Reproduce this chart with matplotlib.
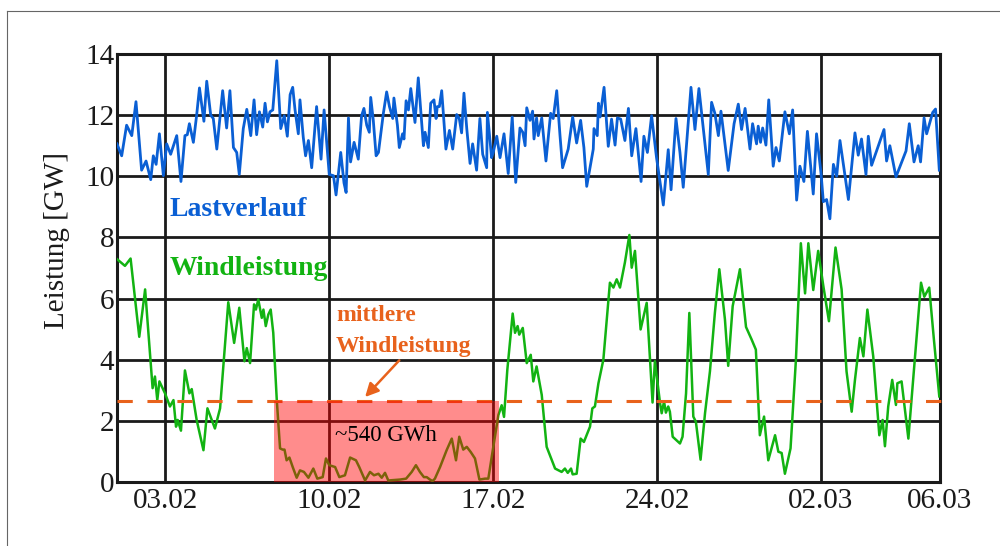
import matplotlib.pyplot as plt
from matplotlib.lines import Line2D
from matplotlib.patches import Rectangle

plt.rcParams['font.family'] = ['Liberation Serif', 'DejaVu Serif']

# Zeit in Tagen ab 01.02. 00:00 (03.02 = 2)
last_t = [-0.05, 0.15, 0.36, 0.58, 0.76, 1.00, 1.19, 1.39, 1.50, 1.62, 1.76, 1.93, 2.07, 2.24, 2.50,
          2.68, 2.85, 2.95, 3.04, 3.21, 3.35, 3.47, 3.66, 3.78, 3.95, 4.06, 4.21, 4.46, 4.63, 4.77,
          4.92, 5.06, 5.17, 5.34, 5.49, 5.66, 5.80, 5.91, 6.03, 6.17, 6.27, 6.37, 6.48, 6.60, 6.77,
          6.94, 7.09, 7.22, 7.34, 7.45, 7.55, 7.69, 7.76, 7.90, 8.00, 8.12, 8.26, 8.47, 8.66, 8.79,
          9.01, 9.19, 9.30, 9.50, 9.64, 9.73, 9.83, 9.92, 10.07, 10.25, 10.39, 10.49, 10.61, 10.72,
          10.78, 10.89, 11.01, 11.11, 11.32, 11.46, 11.58, 11.72, 11.77, 11.92, 12.00, 12.14, 12.20,
          12.29, 12.39, 12.49, 12.67, 12.81, 13.03, 13.10, 13.24, 13.34, 13.48, 13.57, 13.62, 13.71,
          13.81, 13.99, 14.14, 14.28, 14.45, 14.56, 14.66, 14.76, 14.88, 15.02, 15.13, 15.30, 15.44,
          15.56, 15.73, 15.76, 15.94, 16.01, 16.16, 16.30, 16.47, 16.65, 16.82, 16.97, 17.15, 17.27,
          17.37, 17.44, 17.58, 17.69, 17.75, 17.86, 17.93, 18.08, 18.26, 18.46, 18.57, 18.72, 18.86,
          18.97, 19.21, 19.40, 19.57, 19.74, 19.88, 20.00, 20.28, 20.31, 20.45, 20.50, 20.57, 20.74,
          20.92, 21.06, 21.21, 21.31, 21.45, 21.63, 21.78, 21.92, 22.10, 22.32, 22.44, 22.59, 22.77,
          22.98, 23.27, 23.48, 23.60, 23.81, 23.98, 24.12, 24.45, 24.62, 24.79, 25.19, 25.33, 25.47,
          25.62, 25.73, 26.04, 26.29, 26.47, 26.61, 26.76, 26.97, 27.08, 27.25, 27.32, 27.42, 27.51,
          27.65, 27.77, 27.96, 28.08, 28.22, 28.46, 28.65, 28.79, 28.96, 29.10, 29.27, 29.42, 29.67,
          29.81, 30.00, 30.10, 30.24, 30.38, 30.53, 30.67, 30.81, 31.17, 31.45, 31.59, 31.73, 31.92,
          32.02, 32.16, 32.69, 32.80, 32.94, 33.20, 33.63, 33.77, 33.97, 34.15, 34.25, 34.40, 34.51,
          34.77, 34.89, 35.05]
last_gw = [11.06, 10.67, 11.67, 11.33, 12.44, 10.20, 10.50, 9.89, 10.67, 10.39, 11.39, 10.02, 11.06, 10.72, 11.33,
           9.83, 11.33, 11.36, 11.72, 11.11, 12.00, 12.89, 11.80, 13.11, 12.00, 11.89, 10.89, 12.80, 11.58, 12.80,
           10.94, 10.78, 10.06, 11.56, 12.19, 11.33, 12.50, 11.36, 12.11, 11.61, 12.39, 11.78, 12.11, 12.17, 13.78,
           11.56, 11.98, 11.31, 12.67, 12.91, 12.17, 11.39, 12.50, 11.28, 10.67, 11.17, 10.28, 12.28, 10.56, 12.17,
           10.06, 10.02, 9.39, 10.78, 9.78, 9.47, 11.91, 10.47, 11.11, 10.56, 11.98, 12.22, 11.67, 11.44,
           12.58, 11.83, 10.67, 10.78, 12.06, 12.76, 12.28, 11.89, 12.56, 11.67, 10.94, 11.39, 11.22,
           12.47, 12.17, 12.87, 11.76, 13.22, 11.00, 11.44, 10.94, 12.39, 12.50, 11.89, 12.28, 12.28,
           12.80, 10.89, 11.50, 10.89, 12.02, 11.89, 11.42, 12.72, 11.56, 10.42, 11.06, 10.20, 11.89,
           10.72, 10.28, 12.09, 10.61, 10.78, 11.31, 10.61, 11.39, 10.09, 11.94, 9.80, 11.58, 11.44,
           11.00, 12.24, 11.83, 12.13, 11.22, 11.91, 11.33, 11.91, 10.50, 12.06, 11.89, 12.80, 11.33,
           10.28, 10.89, 11.94, 11.09, 11.83, 10.94, 9.67, 10.89, 11.56, 11.33, 12.39, 11.94, 12.91,
           10.98, 11.87, 11.02, 11.91, 11.87, 11.17, 12.22, 10.67, 11.56, 9.83, 11.31, 10.78, 11.98,
           10.61, 9.06, 10.87, 9.56, 11.89, 10.78, 9.64, 12.91, 11.53, 12.87, 10.06, 12.42, 12.06,
           11.33, 12.13, 10.19, 11.72, 12.36, 11.53, 12.22, 10.89, 11.72, 11.06, 11.64, 11.11, 11.58,
           11.02, 12.50, 10.33, 10.94, 10.50, 12.11, 11.39, 12.17, 9.22, 10.33, 9.83, 11.47, 9.42,
           11.39, 10.11, 9.17, 9.24, 8.61, 10.39, 10.00, 11.17, 9.24, 11.42, 10.69, 11.22, 10.06,
           11.31, 10.36, 11.53, 10.50, 11.00, 9.98, 10.83, 11.72, 10.47, 11.00, 10.47, 11.91, 11.39,
           12.09, 12.20, 10.20]

wind_t = [-0.05, 0.29, 0.53, 0.90, 1.15, 1.47, 1.57, 1.67, 1.76, 2.00, 2.21, 2.36, 2.47, 2.54, 2.68,
          2.85, 3.04, 3.14, 3.35, 3.64, 3.81, 4.13, 4.35, 4.70, 4.95, 5.17, 5.39, 5.49, 5.63, 5.80,
          5.88, 5.98, 6.13, 6.20, 6.30, 6.41, 6.51, 6.62, 6.77, 6.91, 7.02, 7.10, 7.19, 7.31, 7.45,
          7.62, 7.76, 7.93, 8.12, 8.33, 8.50, 8.73, 8.87, 9.01, 9.26, 9.44, 9.68, 9.90, 10.15, 10.29,
          10.54, 10.75, 10.92, 11.11, 11.25, 11.39, 11.53, 12.03, 12.29, 12.53, 12.71, 12.88, 13.05,
          13.17, 13.31, 13.42, 13.52, 13.74, 14.02, 14.24, 14.42, 14.56, 14.73, 14.88, 15.05, 15.23,
          15.42, 15.66, 15.80, 15.99, 16.23, 16.37, 16.47, 16.61, 16.84, 16.94, 17.05, 17.12, 17.27,
          17.44, 17.61, 17.72, 17.86, 18.08, 18.29, 18.65, 18.93, 19.07, 19.19, 19.33, 19.40, 19.57,
          19.74, 19.88, 20.14, 20.24, 20.35, 20.50, 20.71, 20.99, 21.14, 21.28, 21.42, 21.63, 21.82,
          21.92, 22.06, 22.30, 22.56, 22.70, 22.81, 22.91, 23.13, 23.20, 23.30, 23.38, 23.48, 23.55,
          23.67, 23.98, 24.09, 24.24, 24.38, 24.55, 24.66, 24.86, 25.05, 25.26, 25.47, 25.66, 25.90,
          26.04, 26.23, 26.54, 26.80, 27.04, 27.22, 27.39, 27.57, 27.75, 28.04, 28.18, 28.32, 28.46,
          28.70, 28.93, 29.14, 29.32, 29.46, 29.67, 29.88, 30.10, 30.34, 30.62, 30.88, 31.09, 31.31,
          31.45, 31.66, 31.81, 31.98, 32.23, 32.49, 32.63, 32.73, 32.87, 33.04, 33.20, 33.26, 33.44,
          33.73, 34.01, 34.27, 34.41, 34.62, 34.82, 35.05]
wind_gw = [7.29, 7.07, 7.31, 4.75, 6.30, 3.07, 3.45, 2.68, 3.29, 2.90, 2.47, 2.68, 1.81, 2.03, 1.68,
           3.65, 2.90, 3.04, 2.03, 1.04, 2.41, 1.75, 2.41, 5.88, 4.55, 5.70, 3.95, 4.38, 3.89, 5.81,
           5.64, 5.97, 5.37, 5.64, 5.10, 5.48, 5.64, 4.88, 2.68, 1.10, 1.06, 1.06, 0.71, 0.80, 0.49,
           0.14, 0.38, 0.33, 0.14, 0.44, 0.11, 0.16, 0.77, 0.55, 0.49, 0.16, 0.22, 0.80, 0.71, 0.49,
           0.05, 0.33, 0.22, 0.27, 0.14, 0.30, 0.05, 0.08, 0.11, 0.33, 0.55, 0.33, 0.16,
           0.16, 0.08, 0.03, 0.11, 0.49, 1.04, 1.42, 0.71, 1.48, 1.06, 1.15, 0.98, 0.77,
           0.08, 0.11, 0.11, 1.04, 2.19, 2.51, 2.13, 3.66, 5.51, 4.88, 5.10, 4.82, 5.04,
           3.89, 4.16, 3.29, 3.78, 2.85, 1.15, 0.44, 0.33, 0.44, 0.30, 0.44, 0.25, 0.27,
           1.42, 1.31, 1.81, 2.41, 2.47, 3.23, 4.00, 6.52, 6.36, 6.63, 6.36, 7.18, 8.08,
           7.01, 7.56, 4.99, 5.86, 4.00, 2.60, 3.95, 2.58, 2.25, 2.63, 2.27, 2.47, 2.30,
           1.48, 1.26, 1.48, 2.90, 5.53, 2.14, 1.97, 0.73, 2.25, 3.62, 5.53, 6.96, 5.32,
           3.80, 5.75, 6.96, 5.07, 4.66, 4.33, 1.53, 2.14, 0.71, 1.53, 0.99, 0.95, 0.27,
           1.10, 4.00, 7.81, 6.17, 7.81, 6.28, 7.56, 6.41, 5.26, 7.67, 6.30, 3.62, 2.30,
           3.34, 4.71, 4.11, 5.64, 4.11, 1.53, 2.03, 1.17, 2.47, 3.34, 2.52, 3.23, 3.29,
           1.42, 4.05, 6.52, 6.06, 6.36, 4.66, 2.80]

mittel_gw = 2.64
flaute_start, flaute_ende = 6.67, 16.27

x_ticks = [2, 9, 16, 23, 30, 35.08]
x_labels = ['03.02', '10.02', '17.02', '24.02', '02.03', '06.03']
y_ticks = [0, 2, 4, 6, 8, 10, 12, 14]

blau = '#0a5fd4'
gruen = '#12b312'
orange = '#e8621c'

fig = plt.figure(figsize=(10, 5.46), dpi=100)
ax = fig.add_axes([0.117, 0.1172, 0.823, 0.7839])

ax.plot(last_t, last_gw, color=blau, lw=2.0, zorder=3)
ax.plot(wind_t, wind_gw, color=gruen, lw=1.8, zorder=3)
# mittlere Windleistung, leicht über den rechten Rand hinaus
ax.plot([-0.05, 35.3], [mittel_gw, mittel_gw], color=orange, lw=2.2, dashes=(5, 4.8),
        zorder=4, clip_on=False)

ax.add_patch(Rectangle((flaute_start, 0), flaute_ende - flaute_start, mittel_gw,
                       facecolor='red', alpha=0.45, edgecolor='none', zorder=5))

ax.set_xlim(-0.05, 35.08)
ax.set_ylim(0, 14)
ax.set_xticks(x_ticks)
ax.set_xticklabels(x_labels)
ax.set_yticks(y_ticks)
ax.tick_params(length=0, labelsize=21, colors='#1a1a1a')
ax.tick_params(axis='y', pad=2)
ax.tick_params(axis='x', pad=4)
ax.grid(True, color='#1a1a1a', lw=2.0, zorder=1)
ax.set_axisbelow(True)
for sp in ax.spines.values():
    sp.set_linewidth(2.2)
    sp.set_color('#1a1a1a')

ax.set_ylabel('Leistung [GW]', fontsize=21, color='#1a1a1a')
ax.yaxis.set_label_coords(-0.057, 0.565)

ax.text(2.21, 8.70, 'Lastverlauf', color=blau, fontsize=20, fontweight='bold', va='baseline', zorder=6)
ax.text(2.18, 6.77, 'Windleistung', color=gruen, fontsize=20, fontweight='bold', va='baseline', zorder=6)
ax.text(9.30, 5.27, 'mittlere', color=orange, fontsize=17, fontweight='bold', va='baseline', zorder=6)
ax.text(9.30, 4.26, 'Windleistung', color=orange, fontsize=17, fontweight='bold', va='baseline', zorder=6)
ax.text(9.26, 1.34, '~540 GWh', color='black', fontsize=16.5, va='baseline', zorder=6)
ax.annotate('', xy=(10.54, 2.78), xytext=(12.0, 3.98),
            arrowprops=dict(arrowstyle='-|>', color=orange, lw=1.8, mutation_scale=20,
                            shrinkA=0, shrinkB=0), zorder=6)

# Rahmen
fig.add_artist(Line2D([0.007, 0.007], [0, 0.98], transform=fig.transFigure, color='#666666', lw=0.8))
fig.add_artist(Line2D([0.007, 1.0], [0.98, 0.98], transform=fig.transFigure, color='#666666', lw=0.8))

fig.savefig('out.png', dpi=100)
